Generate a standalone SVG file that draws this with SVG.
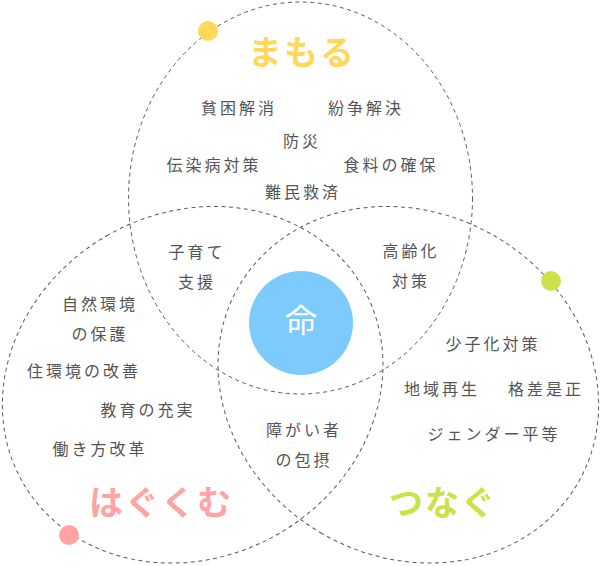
<svg xmlns="http://www.w3.org/2000/svg" width="602" height="566" viewBox="0 0 602 566">
<style>
.ring{fill:none;stroke:#5a5a5a;stroke-width:1;stroke-dasharray:4 3.5}
.lbl{font-family:"Noto Sans CJK JP","Noto Sans",sans-serif;font-size:16px;fill:#555;letter-spacing:3px;text-anchor:middle}
.ttl{font-family:"Noto Sans CJK JP","Noto Sans",sans-serif;font-size:34px;font-weight:bold;text-anchor:middle;letter-spacing:2px}
</style>
<rect width="602" height="566" fill="#fff"/>
<g id="mamoru">
<ellipse class="ring" cx="300.5" cy="198" rx="172" ry="196"/>
<circle cx="208" cy="31" r="10" fill="#FFD75A"/>
<text class="ttl" x="302" y="65" fill="#FFD75A">まもる</text>
</g>
<g id="hagukumu">
<ellipse class="ring" cx="300.5" cy="198" rx="172" ry="196" transform="rotate(-120 300.5 322.5)"/>
<circle cx="69" cy="535" r="10" fill="#FFA3A3"/>
<text class="ttl" x="161" y="515" fill="#FFA3A3">はぐくむ</text>
</g>
<g id="tsunagu">
<ellipse class="ring" cx="300.5" cy="198" rx="172" ry="196" transform="rotate(120 300.5 322.5)"/>
<circle cx="551" cy="281" r="10" fill="#CDE14B"/>
<text class="ttl" x="443" y="515" fill="#CDE14B">つなぐ</text>
</g>
<g id="inochi">
<circle cx="301" cy="323" r="52" fill="#7DCBFC"/>
<text x="301" y="332" font-family="Noto Sans CJK JP,sans-serif" font-size="32" fill="#fff" text-anchor="middle">命</text>
</g>
<g id="labels">
<g id="t-hinkon"><text class="lbl" x="239" y="114">貧困解消</text></g>
<g id="t-funso"><text class="lbl" x="366" y="114">紛争解決</text></g>
<g id="t-bosai"><text class="lbl" x="302" y="147">防災</text></g>
<g id="t-densen"><text class="lbl" x="214" y="171">伝染病対策</text></g>
<g id="t-shokuryo"><text class="lbl" x="391" y="171">食料の確保</text></g>
<g id="t-nanmin"><text class="lbl" x="303" y="198">難民救済</text></g>
<g id="t-kosodate"><text class="lbl" x="197" y="258">子育て</text><text class="lbl" x="197" y="288">支援</text></g>
<g id="t-koreika"><text class="lbl" x="411" y="257">高齢化</text><text class="lbl" x="411" y="287">対策</text></g>
<g id="t-shizen"><text class="lbl" x="100" y="310">自然環境</text><text class="lbl" x="100" y="340">の保護</text></g>
<g id="t-jukankyo"><text class="lbl" x="84" y="377">住環境の改善</text></g>
<g id="t-kyoiku"><text class="lbl" x="148" y="416">教育の充実</text></g>
<g id="t-hataraki"><text class="lbl" x="100" y="455">働き方改革</text></g>
<g id="t-shoshika"><text class="lbl" x="493" y="350">少子化対策</text></g>
<g id="t-chiiki"><text class="lbl" x="442" y="395">地域再生</text></g>
<g id="t-kakusa"><text class="lbl" x="546" y="395">格差是正</text></g>
<g id="t-gender"><text class="lbl" x="494" y="440">ジェンダー平等</text></g>
<g id="t-shogai"><text class="lbl" x="304" y="436">障がい者</text><text class="lbl" x="304" y="466">の包摂</text></g>
</g>
</svg>
